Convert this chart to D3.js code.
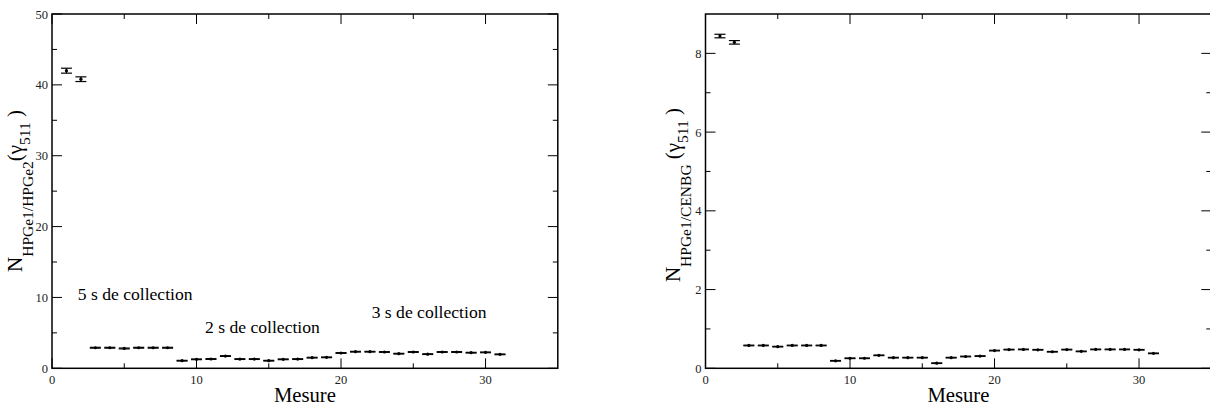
<!DOCTYPE html>
<html>
<head>
<meta charset="utf-8">
<script src="https://cdn.jsdelivr.net/npm/d3@7"></script>
<style>
  html, body { margin: 0; padding: 0; background: #fff; }
  svg { display: block; }
  svg text { font-family: "Liberation Serif", "Times New Roman", Times, "DejaVu Serif", serif; }
</style>
</head>
<body>
<svg id="chart" width="1210" height="406"></svg>
<script>
// ---- data ----
const measures = [1,2,3,4,5,6,7,8,9,10,11,12,13,14,15,16,17,18,19,20,21,22,23,24,25,26,27,28,29,30,31];

const ratioHPGe2 = [42.0, 40.8, 2.9, 2.9, 2.8, 2.9, 2.9, 2.9, 1.07, 1.27, 1.31, 1.73, 1.3, 1.3, 1.07, 1.27,
                    1.3, 1.5, 1.55, 2.16, 2.34, 2.34, 2.3, 2.06, 2.3, 2.0, 2.3, 2.3, 2.2, 2.25, 1.97];
const errHPGe2   = [0.35, 0.33, 0.06, 0.06, 0.06, 0.06, 0.06, 0.06, 0.05, 0.05, 0.05, 0.05, 0.05, 0.05, 0.05, 0.05,
                    0.05, 0.05, 0.05, 0.05, 0.05, 0.05, 0.05, 0.05, 0.05, 0.05, 0.05, 0.05, 0.05, 0.05, 0.05];

const ratioCENBG = [8.44, 8.28, 0.58, 0.58, 0.55, 0.58, 0.58, 0.58, 0.19, 0.255, 0.255, 0.33, 0.27, 0.27, 0.27, 0.13,
                    0.27, 0.30, 0.31, 0.45, 0.475, 0.48, 0.47, 0.42, 0.475, 0.43, 0.48, 0.48, 0.48, 0.47, 0.38];
const errCENBG   = [0.045, 0.045, 0.008, 0.008, 0.008, 0.008, 0.008, 0.008, 0.008, 0.008, 0.008, 0.008, 0.008, 0.008, 0.008, 0.008,
                    0.008, 0.008, 0.008, 0.008, 0.008, 0.008, 0.008, 0.008, 0.008, 0.008, 0.008, 0.008, 0.008, 0.008, 0.008];

const xTicksMajor = [0, 10, 20, 30];
const xTicksMinor = [5, 15, 25];
const yTicksMajorLeft = [0, 10, 20, 30, 40, 50];
const yTicksMinorLeft = [5, 15, 25, 35, 45];
const yTicksMajorRight = [0, 2, 4, 6, 8];
const yTicksMinorRight = [1, 3, 5, 7];

const xLabel = "Mesure";
const annotations = [
  { text: "5 s de collection", x: 1.78, y: 9.65 },
  { text: "2 s de collection", x: 10.59, y: 4.98 },
  { text: "3 s de collection", x: 22.12, y: 7.1 }
];

// ---- drawing ----
const FONT = "'Liberation Serif', 'Times New Roman', Times, 'DejaVu Serif', serif";
const svg = d3.select("#chart");
svg.append("rect").attr("width", 1210).attr("height", 406).attr("fill", "#fff");

function panel(opts) {
  const g = svg.append("g").attr("font-family", FONT);
  const x = d3.scaleLinear().domain([0, 35]).range([opts.left, opts.right]);
  const y = d3.scaleLinear().domain(opts.yDomain).range([opts.bottom, opts.top]);

  const tickColor = "#000";
  g.append("rect")
    .attr("x", opts.left).attr("y", opts.top)
    .attr("width", opts.right - opts.left).attr("height", opts.bottom - opts.top)
    .attr("fill", "none").attr("stroke", "#000").attr("stroke-width", 1.5);

  const major = 10, minor = 5;
  const xt = [...opts.xMajor.map(v => ({v, L: major})), ...opts.xMinor.map(v => ({v, L: minor}))];
  g.selectAll(".xtb").data(xt).join("line")
    .attr("x1", d => x(d.v)).attr("x2", d => x(d.v))
    .attr("y1", opts.bottom).attr("y2", d => opts.bottom - d.L)
    .attr("stroke", tickColor).attr("stroke-width", 1);
  g.selectAll(".xtt").data(xt).join("line")
    .attr("x1", d => x(d.v)).attr("x2", d => x(d.v))
    .attr("y1", opts.top).attr("y2", d => opts.top + d.L)
    .attr("stroke", tickColor).attr("stroke-width", 1);
  const yt = [...opts.yMajor.map(v => ({v, L: major})), ...opts.yMinor.map(v => ({v, L: minor}))];
  g.selectAll(".ytl").data(yt).join("line")
    .attr("y1", d => y(d.v)).attr("y2", d => y(d.v))
    .attr("x1", opts.left).attr("x2", d => opts.left + d.L)
    .attr("stroke", tickColor).attr("stroke-width", 1);
  g.selectAll(".ytr").data(yt).join("line")
    .attr("y1", d => y(d.v)).attr("y2", d => y(d.v))
    .attr("x1", opts.right).attr("x2", d => opts.right - d.L)
    .attr("stroke", tickColor).attr("stroke-width", 1);

  g.selectAll(".xl").data(opts.xMajor).join("text")
    .attr("x", d => x(d)).attr("y", opts.bottom + 16)
    .attr("text-anchor", "middle").attr("font-size", 12.5).attr("fill", "#222")
    .attr("font-family", FONT)
    .text(d => d);
  g.selectAll(".yl").data(opts.yMajor).join("text")
    .attr("x", opts.left - 4).attr("y", d => y(d) + 4.5)
    .attr("text-anchor", "end").attr("font-size", 12.5).attr("fill", "#222")
    .attr("font-family", FONT)
    .text(d => d);

  g.append("text")
    .attr("x", (opts.left + opts.right) / 2).attr("y", 402)
    .attr("text-anchor", "middle").attr("font-size", 20.7).attr("fill", "#000")
    .attr("font-family", FONT)
    .text(xLabel);

  const yl = g.append("text")
    .attr("transform", `translate(${opts.yLabelX},${opts.yLabelCenter}) rotate(-90)`)
    .attr("text-anchor", "middle").attr("fill", "#000")
    .attr("font-family", FONT);
  yl.append("tspan").attr("font-size", 21).text("N");
  yl.append("tspan").attr("font-size", 15.5).attr("dy", 11).text(opts.sub);
  yl.append("tspan").attr("font-size", 21).attr("dy", -11).text(opts.gap + "(\u03B3");
  yl.append("tspan").attr("font-size", 15.5).attr("dy", 8).text("511");
  yl.append("tspan").attr("font-size", 21).attr("dy", -8).text(" )");

  const pts = measures.map((m, i) => ({m, v: opts.values[i], e: opts.errs[i]}));
  const cap = 5.5;
  const eg = g.append("g").attr("stroke", "#000").attr("stroke-width", 1.2);
  eg.selectAll(".ev").data(pts).join("line")
    .attr("x1", d => x(d.m)).attr("x2", d => x(d.m))
    .attr("y1", d => y(d.v - d.e)).attr("y2", d => y(d.v + d.e));
  eg.selectAll(".et").data(pts).join("line")
    .attr("x1", d => x(d.m) - cap).attr("x2", d => x(d.m) + cap)
    .attr("y1", d => y(d.v + d.e)).attr("y2", d => y(d.v + d.e));
  eg.selectAll(".eb").data(pts).join("line")
    .attr("x1", d => x(d.m) - cap).attr("x2", d => x(d.m) + cap)
    .attr("y1", d => y(d.v - d.e)).attr("y2", d => y(d.v - d.e));
  g.selectAll(".dot").data(pts).join("circle")
    .attr("cx", d => x(d.m)).attr("cy", d => y(d.v)).attr("r", 1.6).attr("fill", "#000");

  if (opts.annotations) {
    g.selectAll(".ann").data(opts.annotations).join("text")
      .attr("x", d => x(d.x)).attr("y", d => y(d.y))
      .attr("font-size", 17.6).attr("fill", "#000")
      .attr("font-family", FONT)
      .text(d => d.text);
  }
}

panel({
  left: 52, right: 557.8, top: 14, bottom: 368.3,
  yDomain: [0, 50],
  xMajor: xTicksMajor, xMinor: xTicksMinor,
  yMajor: yTicksMajorLeft, yMinor: yTicksMinorLeft,
  values: ratioHPGe2, errs: errHPGe2,
  sub: "HPGe1/HPGe2", gap: "",
  yLabelX: 22, yLabelCenter: 191,
  annotations: annotations
});

panel({
  left: 705.5, right: 1211.3, top: 14, bottom: 368.3,
  yDomain: [0, 9],
  xMajor: xTicksMajor, xMinor: xTicksMinor,
  yMajor: yTicksMajorRight, yMinor: yTicksMinorRight,
  values: ratioCENBG, errs: errCENBG,
  sub: "HPGe1/CENBG", gap: " ",
  yLabelX: 680, yLabelCenter: 195
});
</script>
</body>
</html>
